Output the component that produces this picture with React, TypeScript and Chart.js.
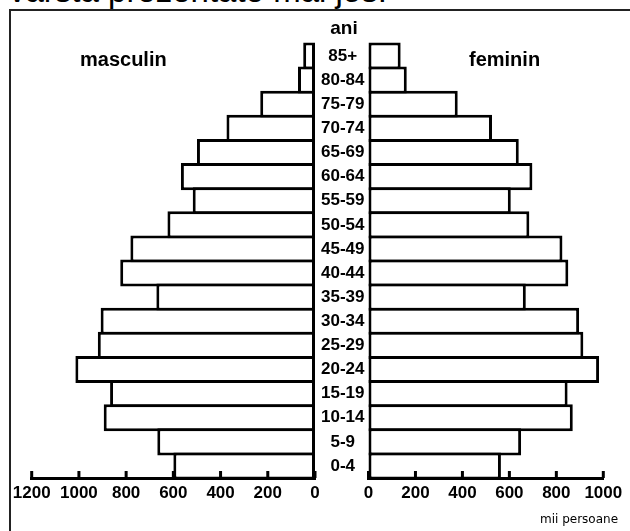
import React, { useEffect, useRef } from "react";
import { Chart, registerables } from "chart.js";

Chart.register(...registerables);

// ---- data ----
const AGE_GROUPS = [
  "85+", "80-84", "75-79", "70-74", "65-69", "60-64", "55-59", "50-54", "45-49",
  "40-44", "35-39", "30-34", "25-29", "20-24", "15-19", "10-14", "5-9", "0-4",
];
const MALE = [50, 72, 232, 375, 500, 568, 518, 625, 782, 825, 672, 908, 920, 1015, 868, 895, 668, 600];
const FEMALE = [137, 163, 380, 526, 640, 698, 606, 685, 826, 851, 670, 897, 915, 982, 848, 870, 650, 564];
const MALE_MAX = 1200;
const FEMALE_MAX = 1000;
const TICK_STEP = 200;

const TITLE_TOP = "vârsta prezentate mai jos:";
const TITLE_AGES = "ani";
const TITLE_MALE = "masculin";
const TITLE_FEMALE = "feminin";
const UNIT_LABEL = "mii persoane";

// ---- styles ----
const W = 630;
const H = 531;
const AREA_TOP = 44;
const AREA_BOTTOM = 478;
const X_AXIS_H = 30;
const BORDER = 3;
const BOLD = "'Liberation Sans', Arial, sans-serif";
const tickFont = { family: BOLD, size: 17, weight: "bold" as const };

const innerTicks = {
  id: "innerTicks",
  afterDatasetsDraw(chart: any) {
    const xs = chart.scales.x;
    const ctx = chart.ctx;
    const b = chart.chartArea.bottom;
    ctx.save();
    ctx.strokeStyle = "#000";
    ctx.lineWidth = 3;
    xs.ticks.forEach((t: any) => {
      const px = xs.getPixelForValue(t.value);
      ctx.beginPath();
      ctx.moveTo(px, b);
      ctx.lineTo(px, b - 7);
      ctx.stroke();
    });
    ctx.restore();
  },
};

function makeConfig(values: number[], max: number, male: boolean, pad: any): any {
  const rowH = (AREA_BOTTOM - AREA_TOP) / AGE_GROUPS.length;
  return {
    type: "bar",
    data: {
      labels: AGE_GROUPS,
      datasets: [
        {
          data: values,
          backgroundColor: "#fff",
          borderColor: "#000",
          borderWidth: BORDER,
          borderSkipped: false,
          categoryPercentage: 1,
          barPercentage: (rowH + BORDER) / rowH,
          clip: false,
        },
      ],
    },
    options: {
      indexAxis: "y",
      animation: false,
      responsive: false,
      maintainAspectRatio: false,
      layout: { padding: pad },
      plugins: { legend: { display: false }, tooltip: { enabled: false } },
      scales: {
        x: {
          type: "linear",
          min: 0,
          max,
          reverse: male,
          afterFit: (s: any) => {
            s.height = X_AXIS_H;
          },
          grid: { display: false, drawTicks: false },
          border: { display: true, color: "#000", width: 3 },
          ticks: {
            stepSize: TICK_STEP,
            autoSkip: false,
            maxRotation: 0,
            padding: 5,
            color: "#000",
            font: tickFont,
            callback: (v: any) => String(v),
          },
        },
        y: male
          ? {
              type: "category",
              position: "right",
              afterFit: (s: any) => {
                s.width = 53;
              },
              grid: { display: false, drawTicks: false },
              border: { display: false },
              ticks: {
                crossAlign: "center",
                padding: 6,
                color: "#000",
                font: tickFont,
                autoSkip: false,
              },
            }
          : { type: "category", display: false },
      },
    },
    plugins: [innerTicks],
  };
}

function PyramidHalf(props: { male: boolean; left: number; width: number }) {
  const ref = useRef<HTMLCanvasElement | null>(null);
  useEffect(() => {
    if (!ref.current) return;
    const pad = props.male
      ? { left: 31.7, right: 0, top: AREA_TOP, bottom: H - AREA_BOTTOM - X_AXIS_H }
      : { left: 23.5, right: 26.7, top: AREA_TOP, bottom: H - AREA_BOTTOM - X_AXIS_H };
    const chart = new Chart(
      ref.current,
      makeConfig(props.male ? MALE : FEMALE, props.male ? MALE_MAX : FEMALE_MAX, props.male, pad)
    );
    return () => chart.destroy();
  }, [props.male]);
  return (
    <canvas
      ref={ref}
      width={props.width}
      height={H}
      style={{ position: "absolute", left: props.left, top: 0, width: props.width, height: H }}
    />
  );
}

export default function App() {
  const bold = { fontFamily: BOLD, fontWeight: "bold" as const, color: "#000", position: "absolute" as const, lineHeight: 1, whiteSpace: "nowrap" as const };
  return (
    <div style={{ position: "fixed", left: 0, top: 0, width: W, height: H, background: "#fff", overflow: "hidden" }}>
      <div style={{ position: "absolute", left: 9, top: 9, width: W, height: H, borderLeft: "2px solid #222", borderTop: "2px solid #222" }} />
      <div style={{ position: "absolute", left: 9, top: -26, fontFamily: "'Liberation Sans', Arial, sans-serif", fontSize: 33, lineHeight: 1, whiteSpace: "nowrap", color: "#000" }}>
        {TITLE_TOP}
      </div>
      <PyramidHalf male={true} left={0} width={368} />
      <PyramidHalf male={false} left={345} width={285} />
      <div style={{ ...bold, left: 321, width: 46, top: 18, fontSize: 19, textAlign: "center" }}>{TITLE_AGES}</div>
      <div style={{ ...bold, left: 80, top: 49, fontSize: 20 }}>{TITLE_MALE}</div>
      <div style={{ ...bold, left: 469, top: 49, fontSize: 20 }}>{TITLE_FEMALE}</div>
      <div style={{ position: "absolute", left: 540, top: 513, fontFamily: "'DejaVu Sans', sans-serif", fontSize: 12, lineHeight: 1, whiteSpace: "nowrap", color: "#000" }}>
        {UNIT_LABEL}
      </div>
    </div>
  );
}
